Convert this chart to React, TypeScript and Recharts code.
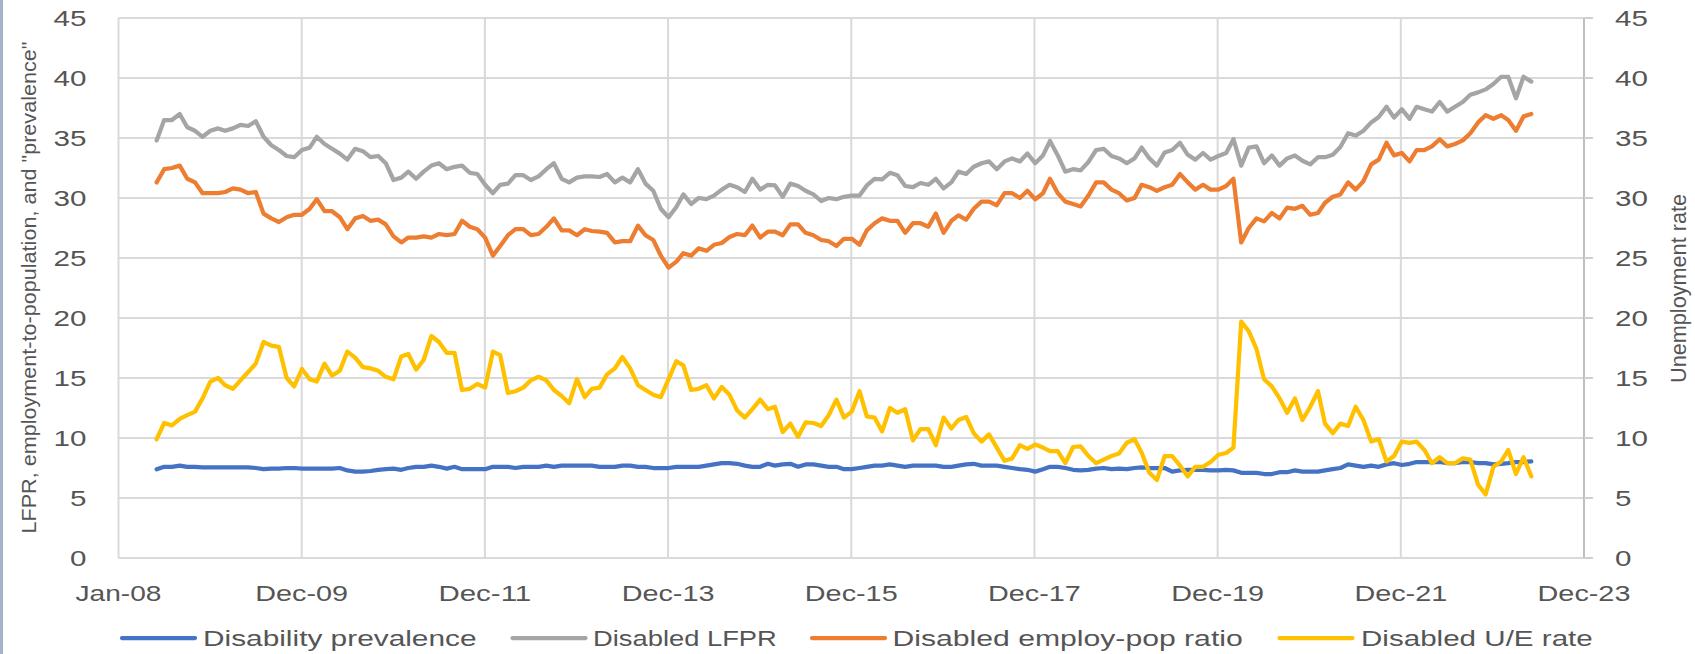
import React from 'react';
import { LineChart, Line, XAxis, YAxis, CartesianGrid, Legend } from 'recharts';

// Monthly series, June 2008 .. June 2023 (181 months)
const FIRST_YEAR = 2008;
const FIRST_MONTH = 5; // June (0-based)

const prevalence = [
  7.4, 7.6, 7.6, 7.7, 7.6, 7.6, 7.55, 7.55, 7.55, 7.55, 7.55, 7.55, 7.55, 7.5, 7.4, 7.45, 7.45, 7.5, 7.5, 7.45,
  7.45, 7.45, 7.45, 7.45, 7.5, 7.3, 7.2, 7.2, 7.25, 7.35, 7.4, 7.45, 7.35, 7.5, 7.6, 7.6, 7.7, 7.6, 7.45, 7.6,
  7.4, 7.4, 7.4, 7.4, 7.6,
  7.6, 7.6, 7.5, 7.6, 7.6, 7.6, 7.7, 7.6, 7.7, 7.7, 7.7, 7.7, 7.7, 7.6, 7.6, 7.6, 7.7, 7.7, 7.6, 7.6,
  7.5, 7.5, 7.5, 7.6, 7.6, 7.6, 7.6, 7.7, 7.8, 7.9, 7.9, 7.85, 7.7, 7.6, 7.6, 7.85, 7.7, 7.8, 7.85, 7.6,
  7.8, 7.8, 7.7, 7.6, 7.6, 7.4, 7.4, 7.5,
  7.6, 7.7, 7.7, 7.8, 7.7, 7.6, 7.7, 7.7, 7.7, 7.7, 7.6, 7.6, 7.7, 7.8, 7.85, 7.7, 7.7, 7.7, 7.6, 7.5,
  7.4, 7.35, 7.2, 7.4, 7.6, 7.6, 7.5, 7.35, 7.3, 7.35, 7.45, 7.5, 7.4, 7.45, 7.4, 7.5, 7.55, 7.5, 7.5, 7.5,
  7.2, 7.3, 7.35, 7.35, 7.35, 7.3, 7.3,
  7.35, 7.3, 7.1, 7.1, 7.1, 7.0, 7.0, 7.15, 7.15, 7.3, 7.2, 7.2, 7.2, 7.3, 7.4, 7.5, 7.8, 7.7, 7.6, 7.7,
  7.6, 7.8, 7.9, 7.75, 7.85, 8.0, 8.0, 8.0, 8.0, 7.9, 7.9, 8.0, 8.0, 7.9, 7.9, 7.8, 7.85, 7.9, 8.0, 8.0, 8.05,
];

const lfpr = [
  34.8, 36.5, 36.5, 37.0, 35.9, 35.6, 35.1, 35.6, 35.8, 35.6, 35.8, 36.1, 36.0, 36.4, 35.1, 34.4, 34.0, 33.5, 33.4, 34.0,
  34.2, 35.1, 34.5, 34.1, 33.7, 33.2, 34.1, 33.9, 33.4, 33.5, 32.9, 31.5, 31.7, 32.2, 31.6, 32.2, 32.7, 32.9, 32.4, 32.6,
  32.7, 32.1, 32.0, 31.1, 30.4,
  31.1, 31.2, 31.9, 31.9, 31.5, 31.8, 32.4, 32.9, 31.6, 31.3, 31.7, 31.8, 31.8, 31.75, 32.0, 31.3, 31.7, 31.3, 32.4, 31.2,
  30.6, 29.1, 28.4, 29.25, 30.3, 29.5, 30.0, 29.9, 30.2, 30.7, 31.1, 30.9, 30.5, 31.6, 30.7, 31.1, 31.05, 30.1, 31.2, 31.0,
  30.6, 30.3, 29.75, 30.0, 29.9, 30.1, 30.2, 30.2,
  31.05, 31.6, 31.55, 32.1, 31.9, 31.0, 30.9, 31.25, 31.1, 31.6, 30.8, 31.3, 32.2, 32.0, 32.6, 32.9, 33.05, 32.4, 33.05, 33.3,
  33.05, 33.7, 32.9, 33.55, 34.75, 33.55, 32.2, 32.4, 32.3, 33.0, 34.0, 34.1, 33.5, 33.3, 32.9, 33.3, 34.2, 33.3, 32.7, 33.8,
  34.0, 34.6, 33.6, 33.2, 33.75, 33.2, 33.5,
  33.75, 34.9, 32.7, 34.2, 34.3, 32.9, 33.55, 32.7, 33.3, 33.55, 33.1, 32.8, 33.4, 33.4, 33.6, 34.25, 35.4, 35.2, 35.6, 36.3,
  36.75, 37.6, 36.7, 37.4, 36.6, 37.6, 37.4, 37.2, 38.0, 37.2, 37.6, 38.0, 38.6, 38.8, 39.05, 39.5, 40.1, 40.1, 38.3, 40.1, 39.7,
];

const empPop = [
  31.3, 32.4, 32.5, 32.7, 31.6, 31.3, 30.4, 30.4, 30.4, 30.5, 30.8, 30.7, 30.4, 30.5, 28.7, 28.3, 28.0, 28.4, 28.6, 28.6,
  29.1, 29.9, 28.9, 28.9, 28.4, 27.4, 28.3, 28.5, 28.1, 28.2, 27.8, 26.8, 26.3, 26.7, 26.7, 26.8, 26.7, 27.0, 26.9, 27.0,
  28.1, 27.6, 27.4, 26.7, 25.2,
  26.0, 26.9, 27.4, 27.4, 26.9, 27.0, 27.6, 28.3, 27.3, 27.3, 26.9, 27.4, 27.25, 27.2, 27.1, 26.3, 26.4, 26.4, 27.7, 26.9,
  26.5, 25.2, 24.2, 24.7, 25.4, 25.2, 25.8, 25.6, 26.1, 26.25, 26.75, 27.0, 26.9, 27.7, 26.7, 27.2, 27.2, 26.9, 27.8, 27.8,
  27.1, 26.9, 26.5, 26.4, 26.0, 26.6, 26.6, 26.1,
  27.3, 27.9, 28.3, 28.1, 28.1, 27.1, 27.9, 27.9, 27.6, 28.7, 27.1, 28.1, 28.55, 28.2, 29.1, 29.7, 29.7, 29.4, 30.4, 30.4,
  30.0, 30.6, 29.9, 30.4, 31.6, 30.4, 29.7, 29.5, 29.3, 30.2, 31.3, 31.3, 30.7, 30.4, 29.8, 30.0, 31.1, 30.9, 30.6, 30.9,
  31.1, 32.0, 31.3, 30.7, 31.1, 30.7, 30.7,
  31.0, 31.6, 26.3, 27.5, 28.3, 28.05, 28.75, 28.3, 29.2, 29.1, 29.35, 28.6, 28.75, 29.6, 30.1, 30.3, 31.3, 30.7, 31.4, 32.8,
  33.2, 34.6, 33.55, 33.75, 33.05, 34.0, 34.0, 34.3, 34.9, 34.3, 34.5, 34.8, 35.4, 36.3, 36.9, 36.6, 36.9, 36.5, 35.6, 36.8, 37.0,
];

const ueRate = [
  9.9, 11.25, 11.05, 11.6, 11.9, 12.2, 13.3, 14.7, 15.0, 14.4, 14.1, 14.8, 15.5, 16.2, 18.0, 17.7, 17.6, 15.0, 14.3, 15.75,
  14.9, 14.7, 16.2, 15.2, 15.6, 17.2, 16.7, 15.9, 15.8, 15.6, 15.1, 14.9, 16.8, 17.0, 15.7, 16.5, 18.5, 18.0, 17.1, 17.1,
  14.0, 14.1, 14.5, 14.2, 17.2,
  16.9, 13.75, 13.9, 14.2, 14.8, 15.1, 14.8, 14.0, 13.5, 12.9, 14.9, 13.4, 14.1, 14.2, 15.3, 15.8, 16.75, 15.8, 14.4, 14.0,
  13.6, 13.4, 14.9, 16.4, 16.05, 14.0, 14.1, 14.4, 13.3, 14.25, 13.6, 12.3, 11.7, 12.4, 13.2, 12.4, 12.6, 10.5, 11.2, 10.1,
  11.3, 11.25, 11.0, 11.9, 13.2, 11.7, 12.2, 13.9,
  11.8, 11.7, 10.55, 12.5, 12.1, 12.4, 9.8, 10.75, 10.75, 9.4, 11.7, 10.8, 11.5, 11.75, 10.4, 9.7, 10.3, 9.2, 8.1, 8.3,
  9.4, 9.1, 9.45, 9.2, 8.9, 8.9, 7.9, 9.25, 9.3, 8.5, 7.9, 8.2, 8.5, 8.7, 9.6, 9.9, 8.8, 7.1, 6.5, 8.5,
  8.5, 7.7, 6.8, 7.6, 7.6, 8.0, 8.6,
  8.75, 9.2, 19.7, 18.9, 17.4, 14.9, 14.3, 13.3, 12.1, 13.3, 11.5, 12.6, 13.9, 11.2, 10.4, 11.2, 11.0, 12.6, 11.5, 9.7,
  9.9, 8.05, 8.5, 9.7, 9.6, 9.7, 9.0, 7.9, 8.4, 7.9, 7.9, 8.3, 8.2, 6.1, 5.3, 7.6, 8.05, 9.0, 7.0, 8.4, 6.8,
];

const X_TICKS = [0, 730, 1460, 2190, 2920, 3650, 4380, 5110, 5840]; // days since 1 Jan 2008
const X_LABELS = ['Jan-08', 'Dec-09', 'Dec-11', 'Dec-13', 'Dec-15', 'Dec-17', 'Dec-19', 'Dec-21', 'Dec-23'];
const Y_TICKS = [0, 5, 10, 15, 20, 25, 30, 35, 40, 45];

const SERIES_NAMES = ['Disability prevalence', 'Disabled LFPR', 'Disabled employ-pop ratio', 'Disabled U/E rate'];
const SERIES_KEYS = ['prevalence', 'lfpr', 'empPop', 'ueRate'];
const SERIES_COLORS = ['#4472C4', '#A5A5A5', '#ED7D31', '#FFC000'];

const LEFT_TITLE = 'LFPR, employment-to-population, and "prevalence"';
const RIGHT_TITLE = 'Unemployment rate';

const DAY_MS = 86400000;
const BASE_MS = Date.UTC(2008, 0, 1);

const rows = prevalence.map((_, i) => {
  const year = FIRST_YEAR + Math.floor((FIRST_MONTH + i) / 12);
  const month = (FIRST_MONTH + i) % 12;
  return {
    t: (Date.UTC(year, month, 1) - BASE_MS) / DAY_MS,
    prevalence: prevalence[i],
    lfpr: lfpr[i],
    empPop: empPop[i],
    ueRate: ueRate[i],
  };
});

// ---- text helpers (horizontal text in the picture is wide) ----
const FONT = '"Liberation Sans", Arial, sans-serif';
const TEXT_COLOR = '#555555';
const CW: Record<string, number> = {
  ' ': 0.226, '-': 0.306, '/': 0.386, '"': 0.401, ',': 0.25,
  '0': 0.507, '1': 0.507, '2': 0.507, '3': 0.507, '4': 0.507, '5': 0.507, '6': 0.507, '7': 0.507, '8': 0.507, '9': 0.507,
  D: 0.615, E: 0.488, F: 0.459, J: 0.319, L: 0.42, P: 0.517, R: 0.543, U: 0.653,
  a: 0.479, b: 0.525, c: 0.423, d: 0.525, e: 0.498, i: 0.229, l: 0.229, m: 0.799, n: 0.525, o: 0.527,
  p: 0.525, r: 0.349, s: 0.391, t: 0.335, u: 0.525, v: 0.452, y: 0.453,
};
const EM_H = 32.5;
const wideWidth = (s: string) => s.split('').reduce((acc, ch) => acc + (CW[ch] ?? 0.5), 0) * EM_H;

const H_FONT = 22;
const LINE_W = 4.25;

const XTick = (props: any) => {
  const { x, payload } = props;
  const idx = X_TICKS.indexOf(payload.value);
  const label = X_LABELS[idx] ?? '';
  return (
    <text x={x} y={600.5} textAnchor="middle" fontFamily={FONT} fontSize={H_FONT} fill={TEXT_COLOR}
      textLength={wideWidth(label)} lengthAdjust="spacingAndGlyphs">{label}</text>
  );
};

const LeftTick = (props: any) => {
  const { y, payload } = props;
  const label = String(payload.value);
  return (
    <text x={86.5} y={y + 7.8} textAnchor="end" fontFamily={FONT} fontSize={H_FONT} fill={TEXT_COLOR}
      textLength={wideWidth(label)} lengthAdjust="spacingAndGlyphs">{label}</text>
  );
};

const RightTick = (props: any) => {
  const { y, payload } = props;
  const label = String(payload.value);
  return (
    <text x={1615} y={y + 7.8} textAnchor="start" fontFamily={FONT} fontSize={H_FONT} fill={TEXT_COLOR}
      textLength={wideWidth(label)} lengthAdjust="spacingAndGlyphs">{label}</text>
  );
};

const LeftTitle = () => (
  <text transform="translate(35.5,287.5) rotate(-90)" textAnchor="middle" fontFamily={FONT} fontSize={21}
    fill={TEXT_COLOR} textLength={492} lengthAdjust="spacingAndGlyphs">{LEFT_TITLE}</text>
);

const RightTitle = () => (
  <text transform="translate(1685.5,288.5) rotate(-90)" textAnchor="middle" fontFamily={FONT} fontSize={22}
    fill={TEXT_COLOR} textLength={189} lengthAdjust="spacingAndGlyphs">{RIGHT_TITLE}</text>
);

const LEGEND_LINE_X = [122, 512.5, 812, 1279.5];
const LEGEND_TEXT_X = [203, 593, 892.5, 1361];

const LegendContent = () => (
  <svg width={1695} height={40} style={{ display: 'block' }}>
    {SERIES_NAMES.map((name, i) => (
      <g key={name}>
        <line x1={LEGEND_LINE_X[i]} x2={LEGEND_LINE_X[i] + 73} y1={24} y2={24}
          stroke={SERIES_COLORS[i]} strokeWidth={LINE_W} strokeLinecap="round" />
        <text x={LEGEND_TEXT_X[i]} y={32} fontFamily={FONT} fontSize={H_FONT} fill={TEXT_COLOR}
          textLength={wideWidth(name)} lengthAdjust="spacingAndGlyphs">{name}</text>
      </g>
    ))}
  </svg>
);

export default function App() {
  return (
    <div style={{ position: 'absolute', left: 0, top: 0, width: 1695, height: 654, background: '#ffffff' }}>
      <div style={{ position: 'absolute', left: 0, top: 0, width: 3, height: 654, background: '#a3b4c6' }} />
      <LineChart width={1695} height={654} data={rows} margin={{ top: 18, right: 0, bottom: 0, left: 0 }}>
        <CartesianGrid yAxisId="left" stroke="#d9d9d9" strokeWidth={2} />
        <XAxis dataKey="t" type="number" domain={[0, 5840]} ticks={X_TICKS} interval={0} height={56}
          tickLine={false} axisLine={{ stroke: '#d9d9d9', strokeWidth: 2 }} tick={<XTick />} allowDataOverflow />
        <YAxis yAxisId="left" domain={[0, 45]} ticks={Y_TICKS} interval={0} width={118.5}
          axisLine={false} tickLine={false} tick={<LeftTick />} label={<LeftTitle />} />
        <YAxis yAxisId="right" orientation="right" domain={[0, 45]} ticks={Y_TICKS} interval={0} width={111}
          axisLine={{ stroke: '#bfbfbf', strokeWidth: 2 }} tickLine={{ stroke: '#d0d0d0', strokeWidth: 2 }}
          tickSize={9} tick={<RightTick />} label={<RightTitle />} />
        <Legend verticalAlign="bottom" content={<LegendContent />} />
        {SERIES_KEYS.map((key, i) => (
          <Line key={key} yAxisId={key === 'ueRate' ? 'right' : 'left'} type="linear" dataKey={key}
            name={SERIES_NAMES[i]} stroke={SERIES_COLORS[i]} strokeWidth={LINE_W} dot={false}
            activeDot={false} strokeLinejoin="round" strokeLinecap="round" isAnimationActive={false} />
        ))}
      </LineChart>
    </div>
  );
}
